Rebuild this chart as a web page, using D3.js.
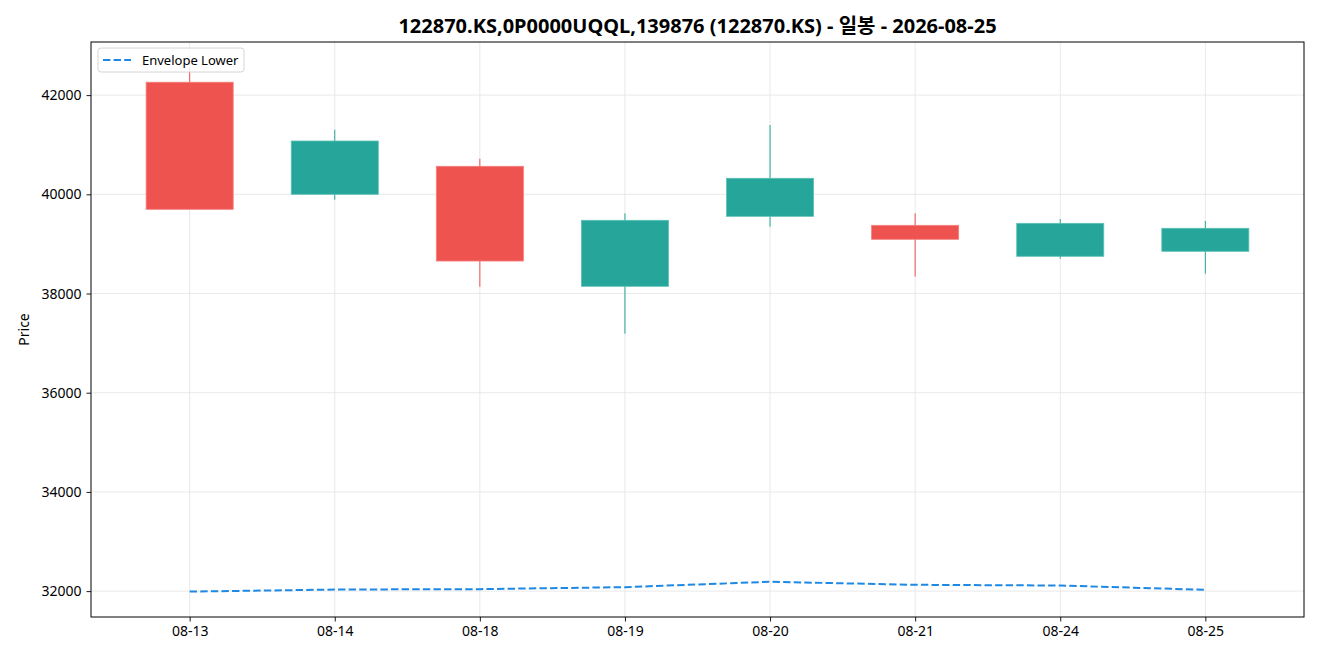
<!DOCTYPE html>
<html>
<head>
<meta charset="utf-8">
<script src="https://cdn.jsdelivr.net/npm/d3@7"></script>
<style>
  body { margin: 0; background: white; }
  svg { font-family: "Noto Sans", "Noto Sans CJK KR", sans-serif; }
</style>
</head>
<body>
<script>
// daily candles
const dates = ['08-13', '08-14', '08-18', '08-19', '08-20', '08-21', '08-24', '08-25']
const opens = [42260, 40000, 40565, 38145, 39556, 39375, 38750, 38851]
const highs = [42550, 41302, 40718, 39617, 41397, 39617, 39502, 39462]
const lows = [39698, 39891, 38137, 37190, 39347, 38339, 38702, 38399]
const closes = [39698, 41075, 38655, 39476, 40323, 39093, 39415, 39315]
const envLower = [31990, 32032, 32040, 32080, 32188, 32127, 32113, 32026]
const yTicks = [32000, 34000, 36000, 38000, 40000, 42000]

const title = '122870.KS,0P0000UQQL,139876 (122870.KS) - 일봉 - 2026-08-25'

function main(){
    const width = 1320
    const height = 660
    const margin = {top: 42, right: 16, bottom: 43, left: 91}

    const upColor = '#26a69a'
    const downColor = '#ef5350'
    const font = '"Noto Sans", "Noto Sans CJK KR", sans-serif'

    let svg = d3.select('body')
        .append('svg')
        .attr('width', width)
        .attr('height', height)

    let xScale = d3.scaleLinear()
        .domain([-0.68, dates.length - 1 + 0.68])
        .range([margin.left, width - margin.right])
    let yScale = d3.scaleLinear()
        .domain([31478, 43071])
        .range([height - margin.bottom, margin.top])

    // grid
    svg.append('g')
        .selectAll('line')
        .data(yTicks)
        .enter()
        .append('line')
        .attr('x1', margin.left)
        .attr('x2', width - margin.right)
        .attr('y1', d => yScale(d))
        .attr('y2', d => yScale(d))
        .attr('stroke', '#e3e3e3')
        .attr('stroke-width', 0.8)
    svg.append('g')
        .selectAll('line')
        .data(dates)
        .enter()
        .append('line')
        .attr('x1', (d, i) => xScale(i))
        .attr('x2', (d, i) => xScale(i))
        .attr('y1', margin.top)
        .attr('y2', height - margin.bottom)
        .attr('stroke', '#e3e3e3')
        .attr('stroke-width', 0.8)

    // candles
    const bodyW = xScale(0.6) - xScale(0)
    const candles = svg.append('g')
        .selectAll('g')
        .data(dates)
        .enter()
        .append('g')
    candles.append('line')
        .attr('x1', (d, i) => xScale(i))
        .attr('x2', (d, i) => xScale(i))
        .attr('y1', (d, i) => yScale(highs[i]))
        .attr('y2', (d, i) => yScale(lows[i]))
        .attr('stroke', (d, i) => closes[i] >= opens[i] ? upColor : downColor)
        .attr('stroke-width', 1)
    candles.append('rect')
        .attr('x', (d, i) => xScale(i) - bodyW / 2)
        .attr('y', (d, i) => yScale(Math.max(opens[i], closes[i])))
        .attr('width', bodyW)
        .attr('height', (d, i) => Math.abs(yScale(opens[i]) - yScale(closes[i])))
        .attr('fill', (d, i) => closes[i] >= opens[i] ? upColor : downColor)
        .attr('stroke', (d, i) => closes[i] >= opens[i] ? '#5cc0b5' : '#f47f7c')
        .attr('stroke-width', 0.8)

    // envelope lower
    const line = d3.line()
        .x((d, i) => xScale(i))
        .y(d => yScale(d))
    svg.append('path')
        .datum(envLower)
        .attr('d', line)
        .attr('fill', 'none')
        .attr('stroke', '#1e88e5')
        .attr('stroke-width', 2)
        .attr('stroke-dasharray', '7.4,3.2')

    // axes
    let xAxis = svg.append('g')
        .attr('transform', `translate(0,${height - margin.bottom})`)
        .call(d3.axisBottom(xScale)
            .tickValues(d3.range(dates.length))
            .tickFormat(i => dates[i])
            .tickSize(4.5)
            .tickPadding(5))
    let yAxis = svg.append('g')
        .attr('transform', `translate(${margin.left},0)`)
        .call(d3.axisLeft(yScale)
            .tickValues(yTicks)
            .tickFormat(d3.format('d'))
            .tickSize(4.5)
            .tickPadding(5))
    svg.selectAll('.domain').remove()
    svg.selectAll('.tick text')
        .attr('font-size', '14px')
        .attr('font-family', font)
        .attr('fill', '#000')
    svg.selectAll('.tick line').attr('stroke', '#000').attr('stroke-width', 0.9)

    svg.append('rect')
        .attr('x', margin.left)
        .attr('y', margin.top)
        .attr('width', width - margin.left - margin.right)
        .attr('height', height - margin.top - margin.bottom)
        .attr('fill', 'none')
        .attr('stroke', '#000')
        .attr('stroke-width', 1)

    // labels
    svg.append('text')
        .attr('transform', `translate(29,${(margin.top + height - margin.bottom) / 2}) rotate(-90)`)
        .attr('text-anchor', 'middle')
        .attr('font-size', '14px')
        .text('Price')
    svg.append('text')
        .attr('x', (margin.left + width - margin.right) / 2)
        .attr('y', 33)
        .attr('text-anchor', 'middle')
        .attr('font-size', '20px')
        .attr('font-weight', 'bold')
        .text(title)

    // legend
    const lg = svg.append('g').attr('transform', 'translate(98,48)')
    lg.append('rect')
        .attr('width', 146)
        .attr('height', 24)
        .attr('rx', 3)
        .attr('fill', 'white')
        .attr('fill-opacity', 0.8)
        .attr('stroke', '#d6d6d6')
    lg.append('line')
        .attr('x1', 5)
        .attr('x2', 33)
        .attr('y1', 12)
        .attr('y2', 12)
        .attr('stroke', '#1e88e5')
        .attr('stroke-width', 2)
        .attr('stroke-dasharray', '7.4,3.2')
    lg.append('text')
        .attr('x', 44)
        .attr('y', 16.5)
        .attr('font-size', '13px')
        .text('Envelope Lower')
}

main()
</script>
</body>
</html>
